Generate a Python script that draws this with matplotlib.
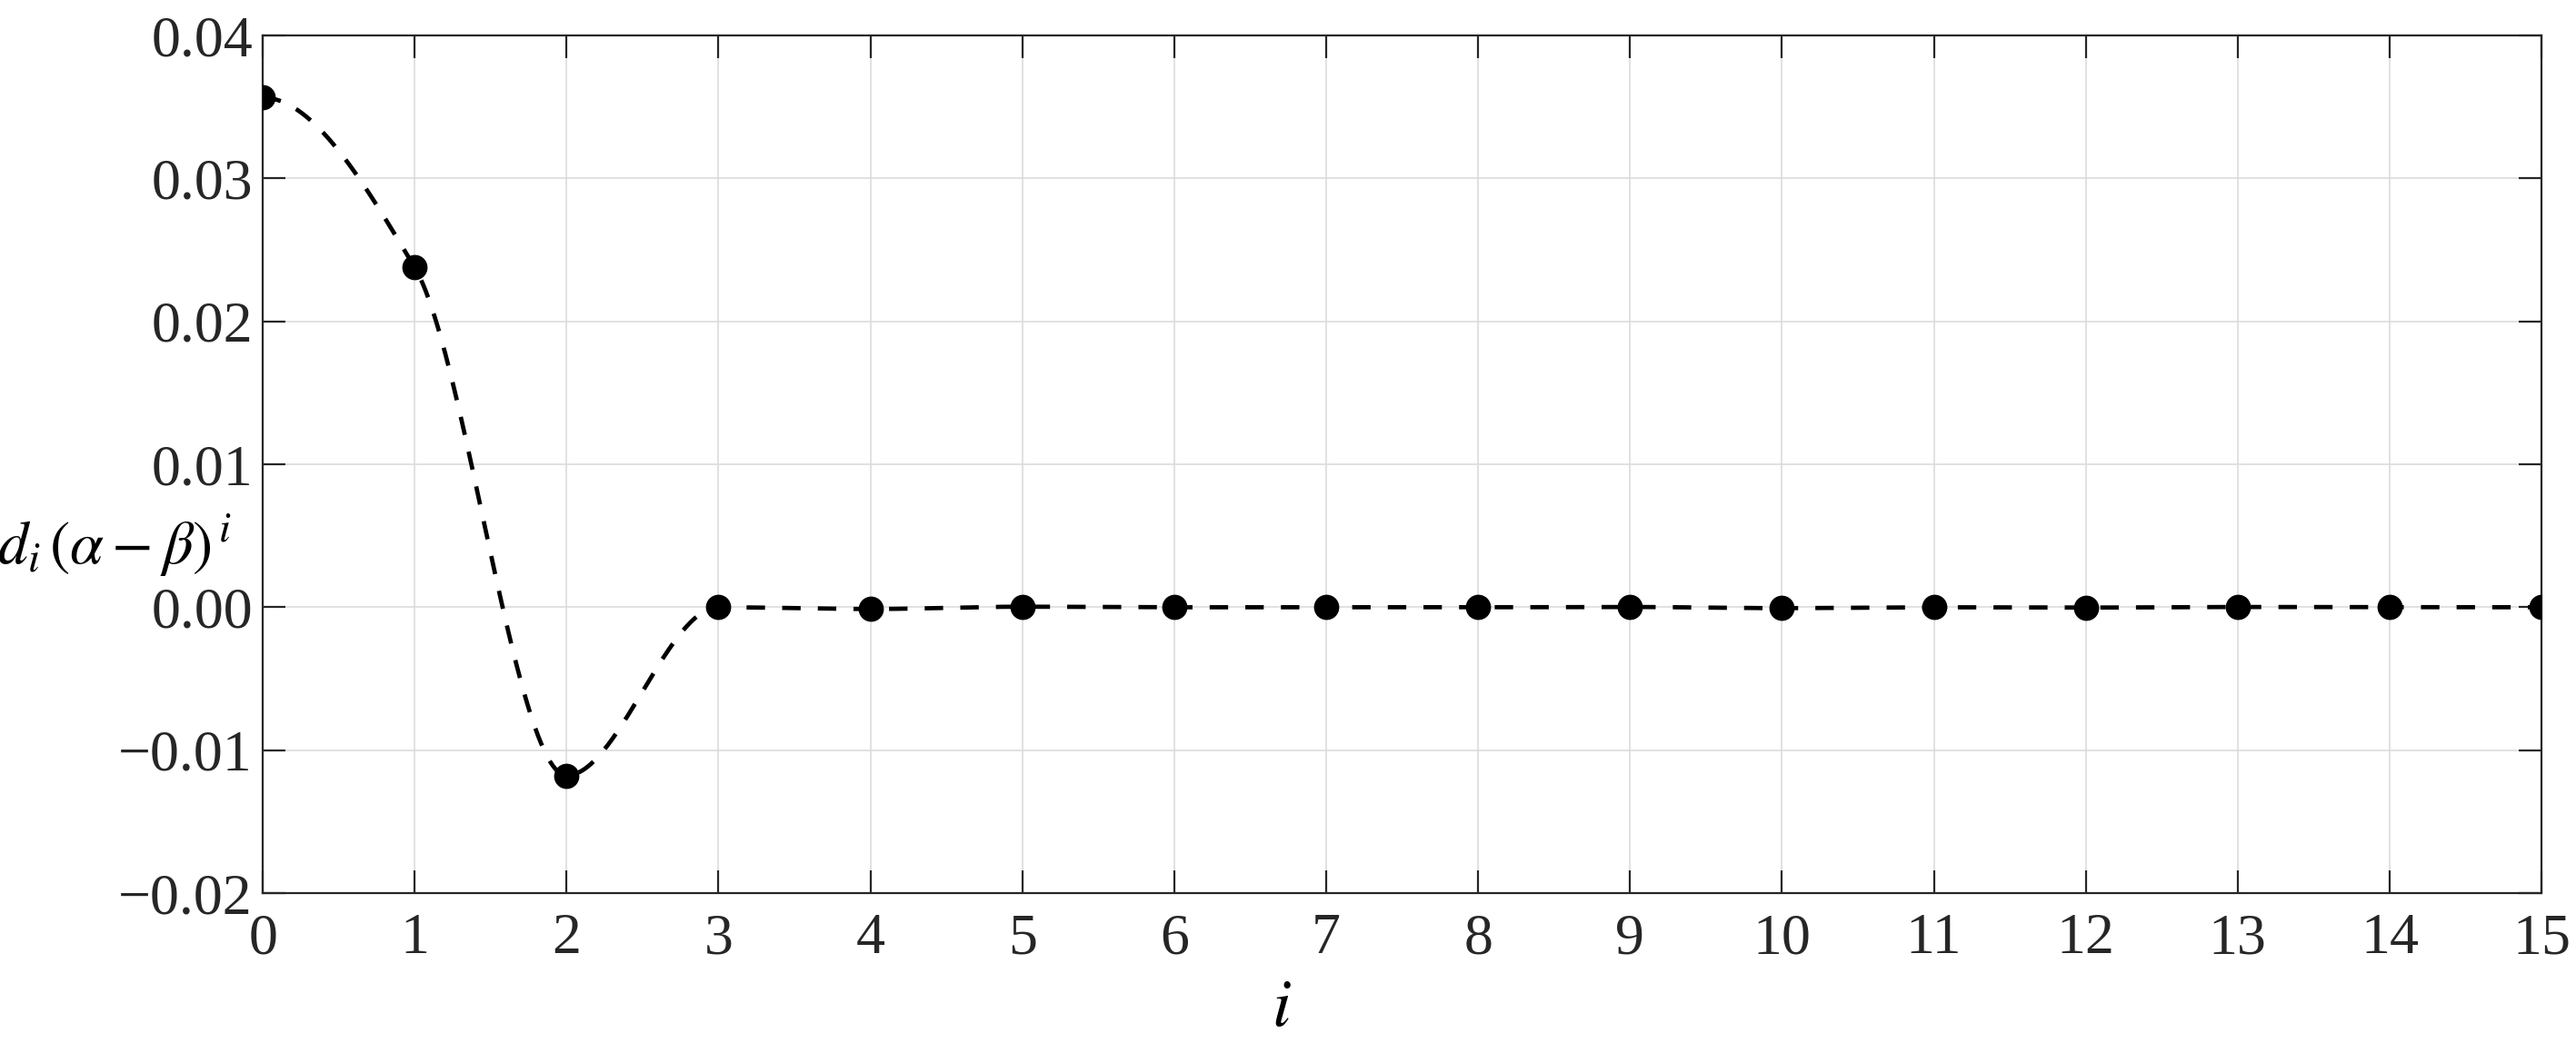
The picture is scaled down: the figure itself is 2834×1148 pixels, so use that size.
import numpy as np
import matplotlib
matplotlib.use("Agg")
import matplotlib.pyplot as plt

# values (i = 0..15)
idx = np.arange(0, 16)
coef = [0.03566, 0.02378, -0.01177, 0.0, -0.00012, 0.00004, 0.0, 0.0,
        0.0, 0.00002, -0.00006, 0.0, -0.00002, 0.00002, 0.00001, 0.0]
yticks = [-0.02, -0.01, 0.00, 0.01, 0.02, 0.03, 0.04]
ylabels = ["\u22120.02", "\u22120.01", "0.00", "0.01", "0.02", "0.03", "0.04"]

plt.rcParams["font.family"] = ["Liberation Serif", "DejaVu Serif"]
plt.rcParams["mathtext.fontset"] = "stix"

INK = "#262626"


def pchip(x, y, xs):
    # shape preserving piecewise cubic, same idea as matlab's pchip
    x = np.asarray(x, float)
    y = np.asarray(y, float)
    h = np.diff(x)
    m = np.diff(y) / h
    n = len(x)
    d = np.zeros(n)
    for k in range(1, n - 1):
        if m[k - 1] * m[k] > 0:
            w1 = 2 * h[k] + h[k - 1]
            w2 = h[k] + 2 * h[k - 1]
            d[k] = (w1 + w2) / (w1 / m[k - 1] + w2 / m[k])
    def end_slope(h0, h1, m0, m1):
        s = ((2 * h0 + h1) * m0 - h0 * m1) / (h0 + h1)
        if np.sign(s) != np.sign(m0):
            s = 0.0
        elif np.sign(m0) != np.sign(m1) and abs(s) > abs(3 * m0):
            s = 3 * m0
        return s
    d[0] = end_slope(h[0], h[1], m[0], m[1])
    d[-1] = end_slope(h[-1], h[-2], m[-1], m[-2])
    seg = np.clip(np.searchsorted(x, xs) - 1, 0, n - 2)
    t = (xs - x[seg]) / h[seg]
    h00 = 2 * t**3 - 3 * t**2 + 1
    h10 = t**3 - 2 * t**2 + t
    h01 = -2 * t**3 + 3 * t**2
    h11 = t**3 - t**2
    return (h00 * y[seg] + h10 * h[seg] * d[seg]
            + h01 * y[seg + 1] + h11 * h[seg] * d[seg + 1])


fig = plt.figure(figsize=(14.17, 5.74), dpi=200)
ax = fig.add_axes([0.1020, 0.1437, 0.8846, 0.8222])

xs = np.linspace(idx[0], idx[-1], 1500)
ax.plot(xs, pchip(idx, coef, xs), color="black", lw=1.7,
        linestyle=(0, (4.3, 4.0)), zorder=3)
ax.plot(idx, coef, "o", color="black", markersize=9, zorder=4)

ax.set_xlim(0, 15)
ax.set_ylim(-0.02, 0.04)
ax.set_xticks(idx)
ax.set_yticks(yticks)
ax.set_yticklabels(ylabels)

ax.grid(True, color="#dcdcdc", lw=0.6)
ax.set_axisbelow(True)
for s in ax.spines.values():
    s.set_color(INK)
    s.set_linewidth(0.8)
ax.tick_params(direction="in", length=9, width=0.8, color=INK,
               labelcolor=INK, labelsize=23, top=True, right=True)
ax.tick_params(axis="x", pad=8)
ax.tick_params(axis="y", pad=4)

ax.set_xlabel(r"$i$", fontsize=27)
ax.xaxis.set_label_coords(0.447, -0.10)
ax.set_ylabel(r"$d_{i}\,(\alpha - \beta)^{\,i}$", fontsize=24, rotation=0,
              ha="right", va="center")
ax.yaxis.set_label_coords(-0.0135, 0.405)

fig.savefig("out.png", dpi=200)
plt.close(fig)
